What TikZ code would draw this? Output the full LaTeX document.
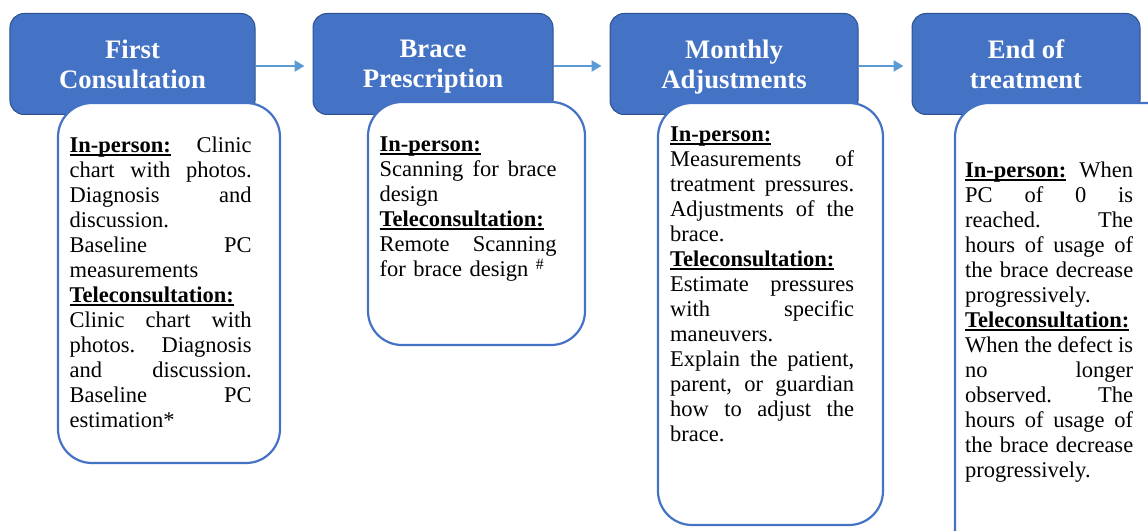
\documentclass[tikz,border=0pt]{standalone}
\usepackage{fontspec}
\IfFontExistsTF{LiberationSerif-Regular.ttf}
  {\setmainfont{LiberationSerif-Regular.ttf}[BoldFont=LiberationSerif-Bold.ttf]}
  {\setmainfont{Liberation Serif}}
\usetikzlibrary{arrows.meta}
\definecolor{bluefill}{HTML}{4472C4}
\definecolor{blueedge}{HTML}{2F528F}
\definecolor{arrowblue}{HTML}{5B9BD5}
\newcommand\titlefont{\fontsize{26.7bp}{30bp}\selectfont\bfseries}
\newcommand\bodyfont{\fontsize{22.5bp}{25bp}\selectfont\frenchspacing}
\def\jw{182bp}
\newcommand\J[1]{\leavevmode\hbox to \jw{\spaceskip=0.25em plus 3em minus 0.05em\relax #1}}
\newcommand\hd[1]{\leavevmode\setbox0\hbox{\textbf{#1}}\rlap{\rule[-2.8bp]{\wd0}{1.6bp}}\box0\relax}
\hbadness=10000
\hfuzz=20pt
\begin{document}
\begin{tikzpicture}[x=1bp,y=-1bp,
  stage/.style={draw=blueedge, line width=1bp, fill=bluefill, rounded corners=14bp,
    minimum width=#1, minimum height=101bp, inner sep=0pt, text=white,
    font=\titlefont, align=center, text depth=0pt},
  card/.style={draw=bluefill, line width=2.2bp, fill=white, rounded corners=34bp, inner sep=0pt},
  body/.style={anchor=north west, inner sep=0pt, align=left, font=\bodyfont, text=black},
  arr/.style={draw=arrowblue, line width=2.5bp, -{Triangle[length=10bp,width=11bp]}, shorten >=8bp}]
\useasboundingbox (0,0) rectangle (1148,531);
\clip (0,0) rectangle (1148,531);
% stage headers
\node[stage=245bp] (b1) at (132.5,64) {First\\Consultation};
\node[stage=240bp] (b2) at (433,64) {Brace\\Prescription};
\node[stage=248bp] (b3) at (734,64) {Monthly\\Adjustments};
\node[stage=228bp] (b4) at (1026,64) {End of\\treatment};
% arrows
\draw[arr] ([yshift=-2bp]b1.east) -- ([yshift=-2bp]b2.west);
\draw[arr] ([yshift=-2bp]b2.east) -- ([yshift=-2bp]b3.west);
\draw[arr] ([yshift=-2bp]b3.east) -- ([yshift=-2bp]b4.west);
% cards
\node[card, minimum width=222bp, minimum height=360bp] (w1) at (169,283) {};
\node[card, minimum width=217bp, minimum height=243bp] (w2) at (476.5,223.5) {};
\node[card, minimum width=225bp, minimum height=422bp] (w3) at (770.5,314) {};
\node[card, minimum width=225bp, minimum height=467bp] (w4) at (1067.5,336.5) {};
% texts
\def\jw{182bp}
\node[body, text width=182bp] (t1) at (69.5,137) {%
\J{\hd{In-person:} Clinic}\\
\J{chart with photos.}\\
\J{Diagnosis and}\\
discussion.\\
\J{Baseline PC}\\
measurements\\
\hd{Teleconsultation:}\\
\J{Clinic chart with}\\
\J{photos. Diagnosis}\\
\J{and discussion.}\\
\J{Baseline PC}\\
estimation*};
\def\jw{177bp}
\node[body, text width=177bp] (t2) at (379.5,137) {%
\hd{In-person:}\\
\J{Scanning for brace}\\
design\\
\hd{Teleconsultation:}\\
\J{Remote Scanning}\\
for brace design \textsuperscript{\#}};
\def\jw{184bp}
\node[body, text width=184bp] (t3) at (670,127) {%
\hd{In-person:}\\
\J{Measurements of}\\
\J{treatment pressures.}\\
\J{Adjustments of the}\\
brace.\\
\hd{Teleconsultation:}\\
\J{Estimate pressures}\\
\J{with specific}\\
maneuvers.\\
\J{Explain the patient,}\\
\J{parent, or guardian}\\
\J{how to adjust the}\\
brace.};
\def\jw{168bp}
\node[body, text width=168bp] (t4) at (965,162) {%
\J{\hd{In-person:} When}\\
\J{PC of 0 is}\\
\J{reached. The}\\
\J{hours of usage of}\\
\J{the brace decrease}\\
progressively.\\
\hd{Teleconsultation:}\\
\J{When the defect is}\\
\J{no longer}\\
\J{observed. The}\\
\J{hours of usage of}\\
\J{the brace decrease}\\
progressively.};
\end{tikzpicture}
\end{document}
